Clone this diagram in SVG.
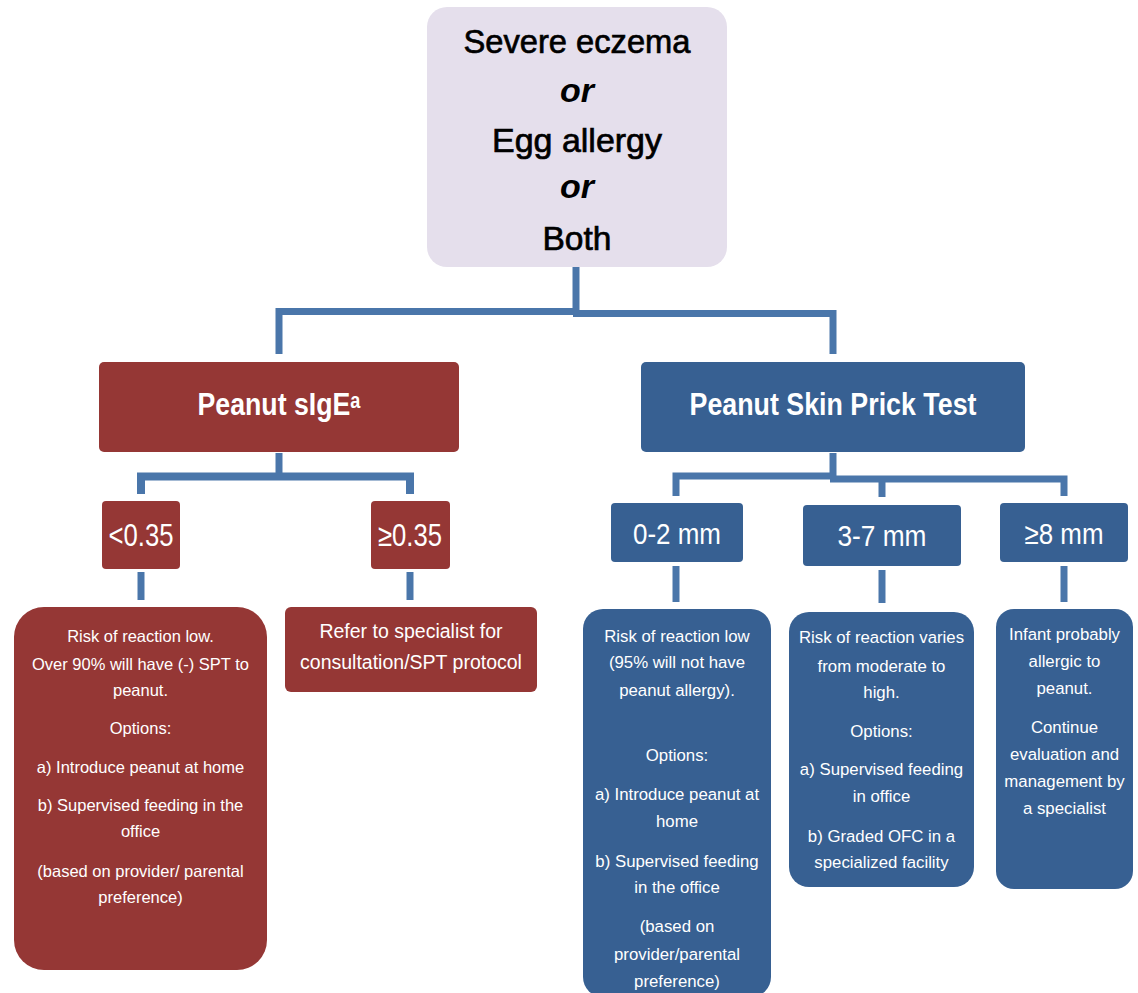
<svg xmlns="http://www.w3.org/2000/svg" width="1138" height="993" viewBox="0 0 1138 993">
  <style>
    .red { fill: #953735; }
    .blue { fill: #376092; }
    .top { fill: #E5DFEC; }
    .conn { fill: none; stroke: #4A76AA; stroke-width: 7; stroke-linejoin: miter; stroke-linecap: butt; }
    .hd { font-family: "Liberation Sans", "DejaVu Sans", Arial, sans-serif; font-weight: bold; text-anchor: middle; }
    .root { font-family: "Liberation Sans", Arial, sans-serif; text-anchor: middle; font-size: 34px; fill: #000; stroke: #000; stroke-width: 0.7px; }
    .lbl { font-family: "Liberation Sans", Arial, sans-serif; fill: #FFFFFF; text-anchor: middle; }
    .det { font-family: "Liberation Sans", Arial, sans-serif; fill: #FFFFFF; text-anchor: middle; font-size: 16.5px; }
    .det17 { font-family: "Liberation Sans", Arial, sans-serif; fill: #FFFFFF; text-anchor: middle; font-size: 16.8px; }
  </style>

  <g id="connectors">
    <path class="conn" d="M576 266 V313"/>
    <path class="conn" d="M279 354 V311.5 H579"/>
    <path class="conn" d="M573 313.5 H833 V354"/>
    <path class="conn" d="M279 453 V477"/>
    <path class="conn" d="M141 494 V476.5 H410 V494" style="stroke-width:8"/>
    <path class="conn" d="M141 572 V600"/>
    <path class="conn" d="M410 572 V600"/>
    <path class="conn" d="M833 453 V477"/>
    <path class="conn" d="M676 496 V476 H836"/>
    <path class="conn" d="M830 479 H1064 V496"/>
    <path class="conn" d="M882 479 V497"/>
    <path class="conn" d="M676 566 V602"/>
    <path class="conn" d="M882 570 V603"/>
    <path class="conn" d="M1064 566 V602"/>
  </g>

  <g id="node-root">
    <rect class="top" x="427" y="7" width="300" height="260" rx="20"/>
    <text class="root" x="577" y="53" textLength="227" lengthAdjust="spacingAndGlyphs">Severe eczema</text>
    <text class="root" x="577" y="102" font-weight="bold" font-style="italic" style="stroke-width:0">or</text>
    <text class="root" x="577" y="152" textLength="170" lengthAdjust="spacingAndGlyphs">Egg allergy</text>
    <text class="root" x="577" y="198" font-weight="bold" font-style="italic" style="stroke-width:0">or</text>
    <text class="root" x="577" y="250" textLength="69" lengthAdjust="spacingAndGlyphs">Both</text>
  </g>

  <g id="node-sige">
    <rect class="red" x="99" y="362" width="360" height="90" rx="5"/>
    <text class="hd" x="279" y="415" font-size="31" fill="#FFF" textLength="163" lengthAdjust="spacingAndGlyphs">Peanut sIgEᵃ</text>
  </g>

  <g id="node-spt">
    <rect class="blue" x="641" y="362" width="384" height="90" rx="5"/>
    <text class="hd" x="833" y="415" font-size="31" fill="#FFF" textLength="287" lengthAdjust="spacingAndGlyphs">Peanut Skin Prick Test</text>
  </g>

  <g id="node-lt035">
    <rect class="red" x="102" y="501" width="78" height="68" rx="4"/>
    <text class="lbl" x="141" y="546" font-size="31" textLength="65" lengthAdjust="spacingAndGlyphs">&lt;0.35</text>
  </g>

  <g id="node-ge035">
    <rect class="red" x="371" y="501" width="79" height="68" rx="4"/>
    <text class="lbl" x="410" y="546" font-size="31" textLength="64" lengthAdjust="spacingAndGlyphs">≥0.35</text>
  </g>

  <g id="node-02mm">
    <rect class="blue" x="611" y="503" width="132" height="59" rx="4"/>
    <text class="lbl" x="677" y="544" font-size="30" textLength="88" lengthAdjust="spacingAndGlyphs">0-2 mm</text>
  </g>

  <g id="node-37mm">
    <rect class="blue" x="803" y="505" width="158" height="61" rx="4"/>
    <text class="lbl" x="882" y="546" font-size="30" textLength="89" lengthAdjust="spacingAndGlyphs">3-7 mm</text>
  </g>

  <g id="node-8mm">
    <rect class="blue" x="1000" y="503" width="128" height="59" rx="4"/>
    <text class="lbl" x="1064" y="544" font-size="30" textLength="79" lengthAdjust="spacingAndGlyphs">≥8 mm</text>
  </g>

  <g id="node-low-sige">
    <rect class="red" x="14" y="607" width="253" height="363" rx="30"/>
    <text class="det" x="140.5" y="642">Risk of reaction low.</text>
    <text class="det" x="140.5" y="670">Over 90% will have (-) SPT to</text>
    <text class="det" x="140.5" y="696">peanut.</text>
    <text class="det" x="140.5" y="734">Options:</text>
    <text class="det" x="140.5" y="773">a) Introduce peanut at home</text>
    <text class="det" x="140.5" y="811">b) Supervised feeding in the</text>
    <text class="det" x="140.5" y="837">office</text>
    <text class="det" x="140.5" y="877">(based on provider/ parental</text>
    <text class="det" x="140.5" y="903">preference)</text>
  </g>

  <g id="node-refer">
    <rect class="red" x="285" y="607" width="252" height="85" rx="6"/>
    <text class="lbl" x="411" y="638" font-size="19.5">Refer to specialist for</text>
    <text class="lbl" x="411" y="669" font-size="19.5">consultation/SPT protocol</text>
  </g>

  <g id="node-low-spt">
    <rect class="blue" x="583" y="609" width="188" height="388" rx="20"/>
    <text class="det17" x="677" y="642">Risk of reaction low</text>
    <text class="det17" x="677" y="668">(95% will not have</text>
    <text class="det17" x="677" y="696">peanut allergy).</text>
    <text class="det17" x="677" y="761">Options:</text>
    <text class="det17" x="677" y="800">a) Introduce peanut at</text>
    <text class="det17" x="677" y="827">home</text>
    <text class="det17" x="677" y="867">b) Supervised feeding</text>
    <text class="det17" x="677" y="893">in the office</text>
    <text class="det17" x="677" y="932">(based on</text>
    <text class="det17" x="677" y="960">provider/parental</text>
    <text class="det17" x="677" y="987">preference)</text>
  </g>

  <g id="node-mod-spt">
    <rect class="blue" x="789" y="612" width="185" height="275" rx="20"/>
    <text class="det17" x="881.5" y="643">Risk of reaction varies</text>
    <text class="det17" x="881.5" y="672">from moderate to</text>
    <text class="det17" x="881.5" y="698">high.</text>
    <text class="det17" x="881.5" y="737">Options:</text>
    <text class="det17" x="881.5" y="775">a) Supervised feeding</text>
    <text class="det17" x="881.5" y="802">in office</text>
    <text class="det17" x="881.5" y="842">b) Graded OFC in a</text>
    <text class="det17" x="881.5" y="868">specialized facility</text>
  </g>

  <g id="node-high-spt">
    <rect class="blue" x="996" y="609" width="137" height="280" rx="18"/>
    <text class="det17" x="1064.5" y="640">Infant probably</text>
    <text class="det17" x="1064.5" y="667">allergic to</text>
    <text class="det17" x="1064.5" y="694">peanut.</text>
    <text class="det17" x="1064.5" y="733">Continue</text>
    <text class="det17" x="1064.5" y="760">evaluation and</text>
    <text class="det17" x="1064.5" y="787">management by</text>
    <text class="det17" x="1064.5" y="814">a specialist</text>
  </g>
</svg>
